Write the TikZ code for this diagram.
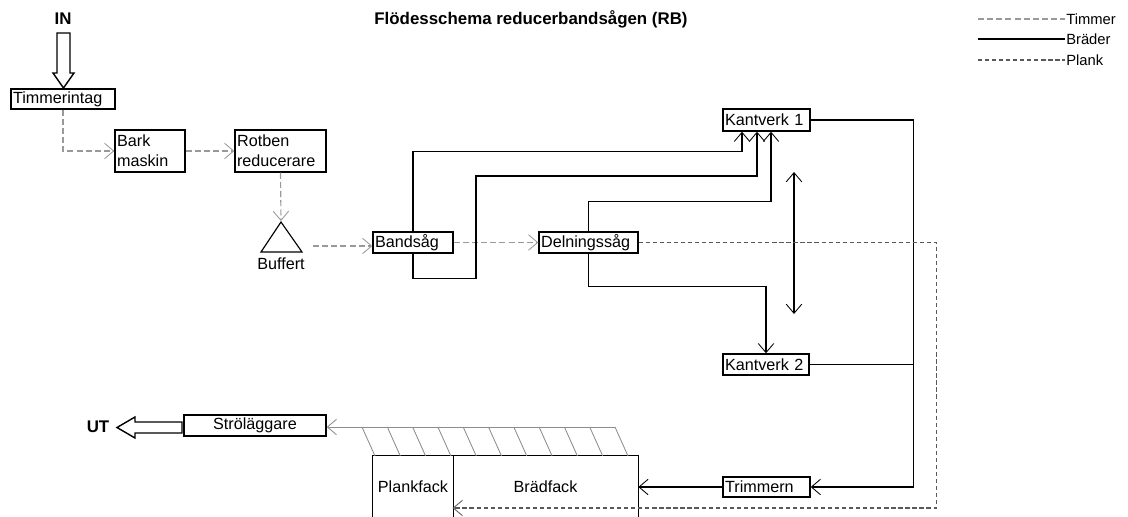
\documentclass[tikz,border=0pt]{standalone}
\usepackage{fontspec}
\setmainfont{Liberation Sans}
\usetikzlibrary{arrows.meta}

\tikzset{
  box/.style={draw, line width=1pt, inner xsep=1.5pt, inner ysep=0pt, align=left, font=\fontsize{11.5}{14}\selectfont},
  fack/.style={inner sep=0pt, font=\fontsize{11.5}{14}\selectfont},
  etikett/.style={inner sep=0pt, font=\fontsize{11.5}{14}\selectfont},
  rubrik/.style={inner sep=0pt, font=\fontsize{12}{14}\selectfont\bfseries},
  legend/.style={inner sep=0.5pt, anchor=west, font=\fontsize{10.5}{12}\selectfont},
  timmer/.style={draw=black!40, line width=0.8pt, dash pattern=on 4.3pt off 2.2pt},
  brader/.style={draw=black, line width=0.75pt},
  plank/.style={draw=black!65, line width=0.8pt, dash pattern=on 3pt off 2pt},
  hatch/.style={draw=black!45, line width=0.6pt},
  pil/.style={draw=black, line width=1pt}
}

\begin{document}
\begin{tikzpicture}[x=0.025cm, y=-0.025cm, >={Straight Barb[length=6.5pt,width=11pt,line width=0.6pt]}]
\useasboundingbox (0,0) rectangle (1128,517);

\node[rubrik] (in) at (63,19) {IN};
\node[rubrik] (titel) at (531,19) {Flödesschema reducerbandsågen (RB)};

\draw[timmer] (978,19) -- (1065,19) node[legend] (lgtimmer) {Timmer};
\draw[brader] (978,39) -- (1065,39) node[legend] (lgbrader) {Bräder};
\draw[plank] (978,60) -- (1065,60) node[legend] (lgplank) {Plank};

\node[box, text width=2.494cm, minimum height=0.5cm] (timmerintag) at (63,99) {Timmerintag};
\node[box, text width=1.644cm, minimum height=1.05cm] (bark) at (150,151) {Bark\\maskin};
\node[box, text width=2.169cm, minimum height=1.05cm] (rotben) at (280.5,151) {Rotben\\reducerare};
\node[box, text width=1.894cm, minimum height=0.525cm] (band) at (413,242.5) {Bandsåg};
\node[box, text width=2.369cm, minimum height=0.525cm] (deln) at (588.5,242.5) {Delningssåg};
\node[box, text width=2.069cm, minimum height=0.55cm] (kv1) at (766.5,120) {Kantverk 1};
\node[box, text width=2.044cm, minimum height=0.525cm] (kv2) at (766,364.5) {Kantverk 2};
\node[box, text width=2.069cm, minimum height=0.5cm] (trim) at (766.5,487) {Trimmern};
\node[box, text width=3.444cm, minimum height=0.525cm, align=center] (stro) at (255,425.5) {Ströläggare};

\node[fack, minimum width=2cm, minimum height=1.55cm] (plankfack) at (413,487) {Plankfack};
\node[fack, minimum width=4.625cm, minimum height=1.55cm] (bradfack) at (545.5,487) {Brädfack};
\draw[brader] (plankfack.south west) |- (bradfack.north east) -- (bradfack.south east);
\draw[brader] (plankfack.north east) -- (plankfack.south east);

\draw[line width=0.8pt] (281,222) -- (302,252) -- (261,252) -- cycle;
\coordinate (buftopp) at (281,221);
\coordinate (bufut) at (313,246);
\node[etikett] (buffert) at (281,264) {Buffert};

\draw[pil] (57,33) -- (70,33) -- (70,73) -- (74,73) -- (63.5,88) -- (53,73) -- (57,73) -- cycle;
\draw[pil] (182,422) -- (135,422) -- (135,417) -- (117,427.5) -- (135,438) -- (135,433) -- (182,433) -- cycle;
\node[rubrik] (ut) at (98,427) {UT};

\draw[timmer,->] (timmerintag.south) |- (bark.west);
\draw[timmer,->] (bark.east) -- (rotben.west);
\draw[timmer,->] (rotben.south) -- (buftopp);
\draw[timmer,->] (bufut) -- (bufut -| band.west);
\draw[timmer,->] (band.east) -- (deln.west);

\draw[brader,->] (band.north) -- ++(0,-80) -| ([xshift=-0.6125cm]kv1.south);
\draw[brader,->] (band.south) -- ++(0,25) -| (476,176) -| ([xshift=-0.2375cm]kv1.south);
\draw[brader,->] (deln.north) -- ++(0,-30) -| ([xshift=0.1125cm]kv1.south);
\draw[brader,->] (deln.south) -- ++(0,33) -| (kv2.north);
\draw[brader,->] (kv1.east) -- ++(103,0) |- (trim.east);
\draw[brader] (kv2.east) -- ++(104,0);
\draw[brader,->] (trim.west) -- (bradfack.east |- trim.west);

\coordinate (dubbelupp) at (794,172);
\coordinate (dubbelner) at (794,314);
\draw[brader,<->] (dubbelupp) -- (dubbelner);

\draw[plank,->] (deln.east) -- ++(298,0) |- ([yshift=-0.525cm]bradfack.west);

\coordinate (hatchslut) at (615,427);
\draw[hatch,->] (hatchslut) -- (hatchslut -| stro.east);
\foreach \i in {0,...,10}
  \draw[hatch] (362+25.3*\i,427) -- ++(13,29);

\end{tikzpicture}
\end{document}
